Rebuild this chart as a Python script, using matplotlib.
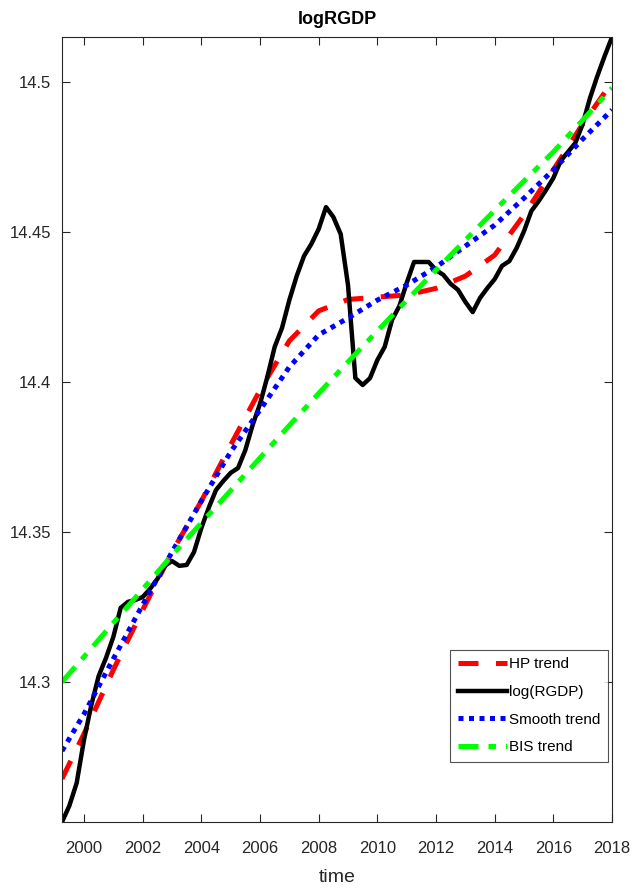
import numpy as np
import matplotlib
matplotlib.use("Agg")
import matplotlib.pyplot as plt

plt.rcParams['font.family'] = ['Liberation Sans', 'DejaVu Sans']

# quarterly log real GDP, 1999Q2 .. 2018Q1
t_q = 1999.25 + 0.25 * np.arange(76)
log_rgdp = [
    14.2533, 14.2587, 14.2663, 14.2807, 14.2923, 14.3020, 14.3080, 14.3150,
    14.3247, 14.3267, 14.3273, 14.3283, 14.3310, 14.3343, 14.3387, 14.3403,
    14.3387, 14.3390, 14.3433, 14.3513, 14.3580, 14.3640, 14.3670, 14.3697,
    14.3713, 14.3773, 14.3857, 14.3927, 14.4017, 14.4117, 14.4180, 14.4273,
    14.4353, 14.4420, 14.4460, 14.4510, 14.4583, 14.4550, 14.4493, 14.4323,
    14.4013, 14.3990, 14.4013, 14.4073, 14.4117, 14.4207, 14.4253, 14.4330,
    14.4400, 14.4400, 14.4400, 14.4373, 14.4357, 14.4327, 14.4307, 14.4267,
    14.4233, 14.4280, 14.4313, 14.4343, 14.4387, 14.4403, 14.4447, 14.4503,
    14.4570, 14.4603, 14.4640, 14.4680, 14.4737, 14.4767, 14.4797, 14.4860,
    14.4947, 14.5020, 14.5087, 14.5150,
]

# trend values read at yearly points
t_y = [1999.25] + list(range(2000, 2019))
hp_trend = [14.2677, 14.2827, 14.3040, 14.3240, 14.3433, 14.3603, 14.3790,
            14.3973, 14.4137, 14.4237, 14.4275, 14.4283, 14.4290, 14.4312,
            14.4353, 14.4423, 14.4557, 14.4707, 14.4860, 14.5000]
smooth_trend = [14.2770, 14.2893, 14.3077, 14.3257, 14.3433, 14.3603, 14.3767,
                14.3907, 14.4050, 14.4157, 14.4213, 14.4273, 14.4323, 14.4383,
                14.4453, 14.4523, 14.4613, 14.4707, 14.4810, 14.4907]
bis_trend = [14.3000, 14.3084, 14.3197, 14.3309, 14.3422, 14.3530, 14.3638,
             14.3747, 14.3855, 14.3962, 14.4067, 14.4170, 14.4272, 14.4373,
             14.4473, 14.4572, 14.4670, 14.4767, 14.4873, 14.4980]

x_ticks = list(range(2000, 2019, 2))
y_ticks = [14.3, 14.35, 14.4, 14.45, 14.5]
y_tick_labels = ['14.3', '14.35', '14.4', '14.45', '14.5']

fig = plt.figure(figsize=(6.32, 8.90), dpi=100)
ax = fig.add_axes([0.0981, 0.0764, 0.8703, 0.882])

ax.plot(t_y, hp_trend, color='#ff0000', lw=3.6, dashes=(4, 3.5), label='HP trend')
ax.plot(t_q, log_rgdp, color='black', lw=3.2, label='log(RGDP)')
ax.plot(t_y, smooth_trend, color='#0000ff', lw=3.6, dashes=(1, 1.1), label='Smooth trend')
ax.plot(t_y, bis_trend, color='#00ff00', lw=3.6, dashes=(4, 2, 1.5, 2), label='BIS trend')

ax.set_xlim(1999.25, 2018)
ax.set_ylim(14.2533, 14.515)
ax.set_xticks(x_ticks)
ax.set_yticks(y_ticks)
ax.set_yticklabels(y_tick_labels)

c = '#262626'
for s in ax.spines.values():
    s.set_color(c)
    s.set_linewidth(0.8)
ax.tick_params(direction='in', top=True, right=True, length=6, width=0.8,
               colors=c, labelsize=12)
ax.tick_params(axis='x', pad=14)
ax.tick_params(axis='y', pad=8)

ax.set_title('logRGDP', fontsize=13, fontweight='bold', pad=9.5)
ax.set_xlabel('time', fontsize=14, color=c, labelpad=9)

leg = ax.legend(loc='lower right', bbox_to_anchor=(0.993, 0.0764), borderaxespad=0,
                fontsize=11, frameon=True, fancybox=False, handlelength=3.2,
                handletextpad=0.15, borderpad=0.5, labelspacing=0.9)
leg.get_frame().set_edgecolor(c)
leg.get_frame().set_linewidth(0.8)

plt.savefig('out.png', dpi=100)
plt.close()
